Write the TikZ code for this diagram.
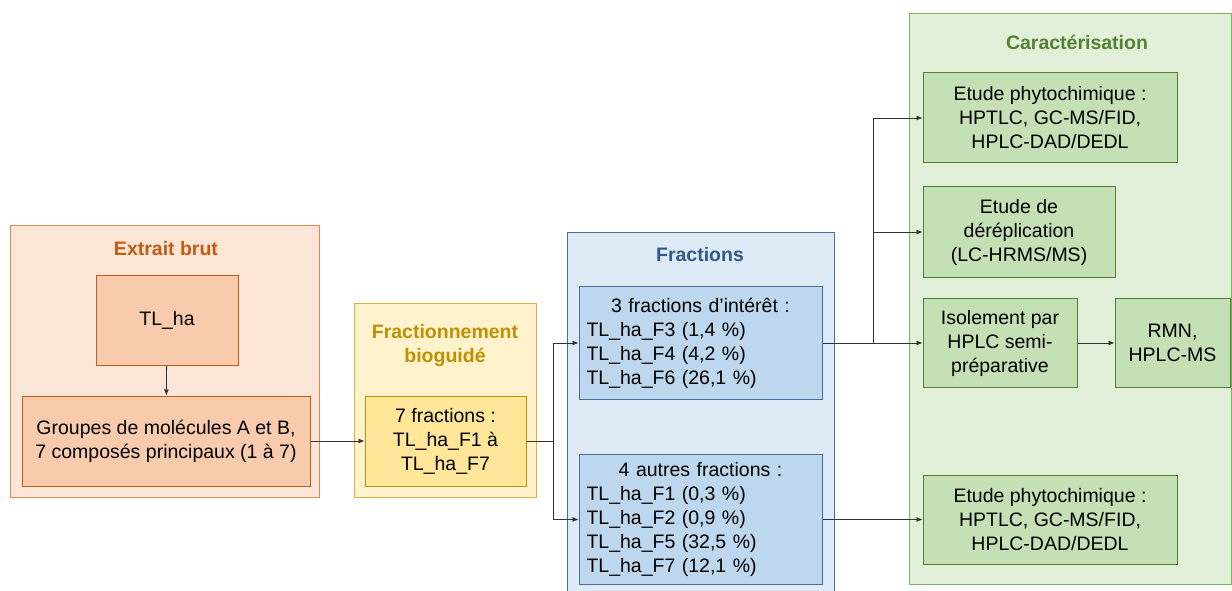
\documentclass[tikz,border=0pt]{standalone}
\usepackage{fontspec}
\setmainfont{Liberation Sans}
\usetikzlibrary{arrows.meta}
\definecolor{orFill}{HTML}{FBE5D6}
\definecolor{orIn}{HTML}{F8CBAD}
\definecolor{orLine}{HTML}{C55A11}
\definecolor{orOut}{HTML}{DC8A55}
\definecolor{yeFill}{HTML}{FFF2CC}
\definecolor{yeIn}{HTML}{FFE699}
\definecolor{yeLine}{HTML}{BF9000}
\definecolor{yeOut}{HTML}{D6B23C}
\definecolor{blFill}{HTML}{DEEBF7}
\definecolor{blIn}{HTML}{BDD7EE}
\definecolor{blLine}{HTML}{41719C}
\definecolor{blTitle}{HTML}{2F5A8A}
\definecolor{grFill}{HTML}{E2F0D9}
\definecolor{grIn}{HTML}{C5E0B4}
\definecolor{grLine}{HTML}{548235}
\definecolor{grOut}{HTML}{7FAE5C}
\tikzset{
  box/.style={draw, line width=1pt, minimum width=#1, inner sep=0pt, align=center, font=\fontsize{19.5}{24}\selectfont},
  title/.style={font=\fontsize{19.5}{24}\selectfont\bfseries, align=center},
  conn/.style={draw=black!80, line width=0.8pt, -{Latex[length=6pt,width=5pt]}},
  line/.style={draw=black!80, line width=0.8pt}
}
\begin{document}
\begin{tikzpicture}[x=1pt,y=-1pt]
\useasboundingbox (0,0) rectangle (1232,591);
\clip (0,0) rectangle (1232,591);
% containers
\node[box=309pt, minimum height=272pt, fill=orFill, draw=orOut] (ext) at (164.5,361) {};
\node[title, text=orLine] (extT) at (166,249) {Extrait brut};
\node[box=182pt, minimum height=194pt, fill=yeFill, draw=yeOut] (fra) at (445,400) {};
\node[title, text=yeLine] (fraT) at (445,345) {Fractionnement\\bioguidé};
\node[box=267pt, minimum height=368pt, fill=blFill, draw=blLine] (fct) at (700.5,416) {};
\node[title, text=blTitle] (fctT) at (700,255) {Fractions};
\node[box=322.5pt, minimum height=570pt, fill=grFill, draw=grOut] (car) at (1070.25,299) {};
\node[title, text=grLine] (carT) at (1077,42) {Caractérisation};
% inner boxes
\node[box=142pt, minimum height=90pt, fill=orIn, draw=orLine] (tlha) at (167,320) {TL\_ha};
\node[box=288pt, minimum height=90pt, fill=orIn, draw=orLine] (grp) at (166,441) {Groupes de molécules A et B,\\7 composés principaux (1 à 7)};
\node[box=161pt, minimum height=90pt, fill=yeIn, draw=yeLine] (f7) at (445.5,441) {7 fractions :\\TL\_ha\_F1 à\\TL\_ha\_F7};
\node[box=243pt, minimum height=113pt, fill=blIn, draw=blLine, text width=228pt, align=left] (fi) at (700.5,343)
  {\makebox[228pt][c]{3 fractions d’intérêt :}\\TL\_ha\_F3 (1,4 \%)\\TL\_ha\_F4 (4,2 \%)\\TL\_ha\_F6 (26,1 \%)};
\node[box=243pt, minimum height=130pt, fill=blIn, draw=blLine, text width=228pt, align=left] (fa) at (700.5,519.5)
  {\makebox[228pt][c]{4 autres fractions :}\\TL\_ha\_F1 (0,3 \%)\\TL\_ha\_F2 (0,9 \%)\\TL\_ha\_F5 (32,5 \%)\\TL\_ha\_F7 (12,1 \%)};
\node[box=254pt, minimum height=90pt, fill=grIn, draw=grLine] (pa) at (1050,118) {Etude phytochimique :\\HPTLC, GC-MS/FID,\\HPLC-DAD/DEDL};
\node[box=192pt, minimum height=90pt, fill=grIn, draw=grLine] (der) at (1019,232) {Etude de\\déréplication\\(LC-HRMS/MS)};
\node[box=154pt, minimum height=89pt, fill=grIn, draw=grLine] (iso) at (1000,343) {Isolement par\\HPLC semi-\\préparative};
\node[box=115pt, minimum height=89pt, fill=grIn, draw=grLine] (rmn) at (1172.5,343) {RMN,\\HPLC-MS};
\node[box=254pt, minimum height=89pt, fill=grIn, draw=grLine] (pb) at (1050,519.5) {Etude phytochimique :\\HPTLC, GC-MS/FID,\\HPLC-DAD/DEDL};
% connectors
\draw[conn] (tlha) -- (grp);
\draw[conn] (grp) -- (f7);
\coordinate (s1) at ([xshift=27pt]f7.east);
\draw[line] (f7.east) -- (s1);
\draw[conn] (s1) |- (fi.west);
\draw[conn] (s1) |- (fa.west);
\coordinate (s2) at ([xshift=51pt]fi.east);
\draw[conn] (fi.east) -- (iso.west);
\draw[conn] (s2) |- (pa.west);
\draw[conn] (s2) |- (der.west);
\draw[conn] (iso) -- (rmn);
\draw[conn] (fa) -- (pb);
\end{tikzpicture}
\end{document}
